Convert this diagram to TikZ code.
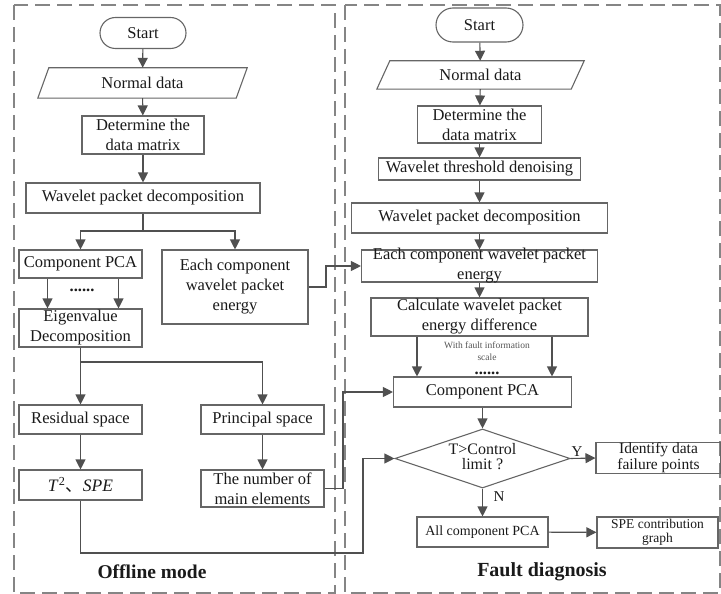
\documentclass[tikz,border=0pt]{standalone}
\usepackage{fontspec}
\setmainfont{Liberation Serif}
\newfontfamily\cjkfont{Noto Sans CJK SC}
\usetikzlibrary{arrows.meta,shapes.geometric}
\definecolor{boxgray}{HTML}{666666}
\definecolor{linegray}{HTML}{505050}
\definecolor{dashgray}{HTML}{858585}
\definecolor{txtcol}{HTML}{1A1A1A}
\definecolor{smallgray}{HTML}{555555}
\begin{document}
\begin{tikzpicture}[x=1pt,y=-1pt,
  box/.style={draw=boxgray, line width=1.1pt, rectangle, inner sep=0pt, align=center,
    text=txtcol, font=\fontsize{16.5}{20}\selectfont},
  bodyonly/.style={rectangle, inner sep=0pt, align=center, text=txtcol,
    font=\fontsize{16.5}{20}\selectfont},
  para/.style={draw=boxgray, line width=1.1pt, line join=miter},
  startbox/.style={box, rounded corners=15.5pt},
  txt/.style={inner sep=0pt, align=center, text=txtcol, font=\fontsize{16.5}{20}\selectfont},
  arr/.style={draw=linegray, line width=1.1pt, -{Triangle[length=10pt,width=10pt]}},
  ln/.style={draw=linegray, line width=1.1pt},
  outer/.style={draw=dashgray, line width=1.5pt, dash pattern=on 15pt off 7pt},
  title/.style={inner sep=0pt, text=txtcol, font=\fontsize{19.5}{22}\selectfont\bfseries}
]
\useasboundingbox (0,0) rectangle (721,594);

% outer dashed frames
\draw[outer] (14,5) rectangle (335,593);
\draw[outer] (345,5) rectangle (720,593);

% ---------------- left column ----------------
\node[startbox, minimum width=86pt, minimum height=31pt] (s1) at (143,33) {Start};
\node[bodyonly, minimum width=198pt, minimum height=30pt] (n1) at (142.5,83) {Normal data};
\draw[para] ([xshift=-5.5pt]n1.south west) -- ([xshift=-5.5pt]n1.south east)
  -- ([xshift=5.5pt]n1.north east) -- ([xshift=5.5pt]n1.north west) -- cycle;
\node[box, minimum width=122pt, minimum height=38pt] (d1) at (143,135) {Determine the\\data matrix};
\node[box, minimum width=234pt, minimum height=30pt] (w1) at (143,198) {Wavelet packet decomposition};
\node[box, minimum width=123pt, minimum height=28pt] (cpca1) at (80.5,264) {Component PCA};
\node[box, minimum width=146pt, minimum height=74pt] (ecomp1) at (235,287) {Each component\\wavelet packet\\energy};
\node[box, minimum width=123pt, minimum height=38pt] (eig1) at (80.5,328) {Eigenvalue\\Decomposition};
\node[txt, anchor=base, font=\fontsize{16.5}{20}\selectfont\bfseries] (dots1) at (82,291) {......};
\node[box, minimum width=123pt, minimum height=29pt] (res1) at (80.5,419.5) {Residual space};
\node[box, minimum width=123pt, minimum height=29pt] (prin1) at (262.5,419.5) {Principal space};
\node[box, minimum width=123pt, minimum height=30pt, font=\fontsize{17.5}{20}\selectfont] (tspe1) at (80.5,485)
  {\textit{T}\textsuperscript{2}{\cjkfont 、}\textit{SPE}};
\node[box, minimum width=123pt, minimum height=37pt] (num1) at (262.5,488.5) {The number of\\main elements};
\node[title] (off) at (152,572) {Offline mode};

\coordinate (br1) at (143,231);
\coordinate (br2) at (80.5,362);
\draw[arr] (s1) -- (n1);
\draw[arr] (n1) -- (d1);
\draw[arr] (d1) -- (w1);
\draw[ln] (w1.south) -- (br1);
\draw[arr] (br1) -| (cpca1.north);
\draw[arr] (br1) -| (ecomp1.north);
\draw[arr] ([xshift=-33pt]cpca1.south) -- ([xshift=-33pt]eig1.north);
\draw[arr] ([xshift=38pt]cpca1.south) -- ([xshift=38pt]eig1.north);
\draw[arr] (eig1) -- (res1);
\draw[arr] (br2) -| (prin1.north);
\draw[arr] (res1) -- (tspe1);
\draw[arr] (prin1) -- (num1);

% ---------------- right column ----------------
\node[startbox, minimum width=87pt, minimum height=34pt, rounded corners=17pt] (s2) at (479.5,25) {Start};
\node[bodyonly, minimum width=194pt, minimum height=28pt] (n2) at (480.5,75) {Normal data};
\draw[para] ([xshift=-6.5pt]n2.south west) -- ([xshift=-6.5pt]n2.south east)
  -- ([xshift=6.5pt]n2.north east) -- ([xshift=6.5pt]n2.north west) -- cycle;
\node[box, minimum width=124pt, minimum height=37pt] (d2) at (479.5,124.5) {Determine the\\data matrix};
\node[box, minimum width=202pt, minimum height=22pt] (wtd2) at (479.5,169) {Wavelet threshold denoising};
\node[box, minimum width=256pt, minimum height=30pt] (wpd2) at (479.5,218) {Wavelet packet decomposition};
\node[box, minimum width=236pt, minimum height=32pt] (ecomp2) at (479.5,266) {};
\node[txt] (ecomp2t) at (479.5,266) {Each component wavelet packet\\energy};
\node[box, minimum width=217pt, minimum height=38pt] (calc2) at (479.5,317) {Calculate wavelet packet\\energy difference};
\node[inner sep=0pt, align=center, text=smallgray, font=\fontsize{9.5}{12.5}\selectfont] (fault) at (487,351)
  {With fault information\\scale};
\node[txt, anchor=base, font=\fontsize{16.5}{20}\selectfont\bfseries] (dots2) at (487,374) {......};
\node[box, minimum width=178pt, minimum height=30pt] (cpca2) at (482.5,392) {Component PCA};
\node[diamond, draw=boxgray, line width=1.1pt, inner sep=0pt, minimum width=175pt, minimum height=59pt] (dia) at (482.5,458.5) {};
\node[txt, font=\fontsize{16}{15}\selectfont] (diat) at (482.5,457) {T>Control\\limit ?};
\node[box, minimum width=125pt, minimum height=30pt, font=\fontsize{15.5}{16}\selectfont] (ident) at (658.5,458) {Identify data\\failure points};
\node[box, minimum width=131pt, minimum height=30pt, font=\fontsize{14}{16}\selectfont] (allpca) at (482.5,532) {All component PCA};
\node[box, minimum width=121pt, minimum height=31pt, font=\fontsize{13.5}{14.5}\selectfont] (speg) at (657.5,532.5) {SPE contribution\\graph};
\node[title, font=\fontsize{20}{22}\selectfont\bfseries] (fd) at (542,572) {Fault diagnosis};
\node[txt, font=\fontsize{15}{16}\selectfont] (ylab) at (577,452) {Y};
\node[txt, font=\fontsize{15}{16}\selectfont] (nlab) at (499,497) {N};

\coordinate (aL) at (417,0);
\coordinate (aR) at (552,0);
\draw[arr] (s2) -- (n2);
\draw[arr] (n2) -- (d2);
\draw[arr] (d2) -- (wtd2);
\draw[arr] (wtd2) -- (wpd2);
\draw[arr] (wpd2) -- (ecomp2);
\draw[arr] (ecomp2) -- (calc2);
\draw[arr] (calc2.south -| aL) -- (cpca2.north -| aL);
\draw[arr] (calc2.south -| aR) -- (cpca2.north -| aR);
\draw[arr] (cpca2) -- (dia);
\draw[arr] (dia.east) -- (ident.west);
\draw[arr] (dia.south) -- (allpca.north);
\draw[arr] (allpca) -- (speg);

% ---------------- cross connectors ----------------
\coordinate (c1) at (363,553);
\coordinate (c2) at (343,488.5);
\coordinate (c3) at (326,287);
\draw[arr] (tspe1.south) |- (c1) |- (dia.west);
\draw[arr] (num1.east) -- (c2) |- (cpca2.west);
\draw[arr] (ecomp1.east) -- (c3) |- (ecomp2.west);
\end{tikzpicture}
\end{document}
